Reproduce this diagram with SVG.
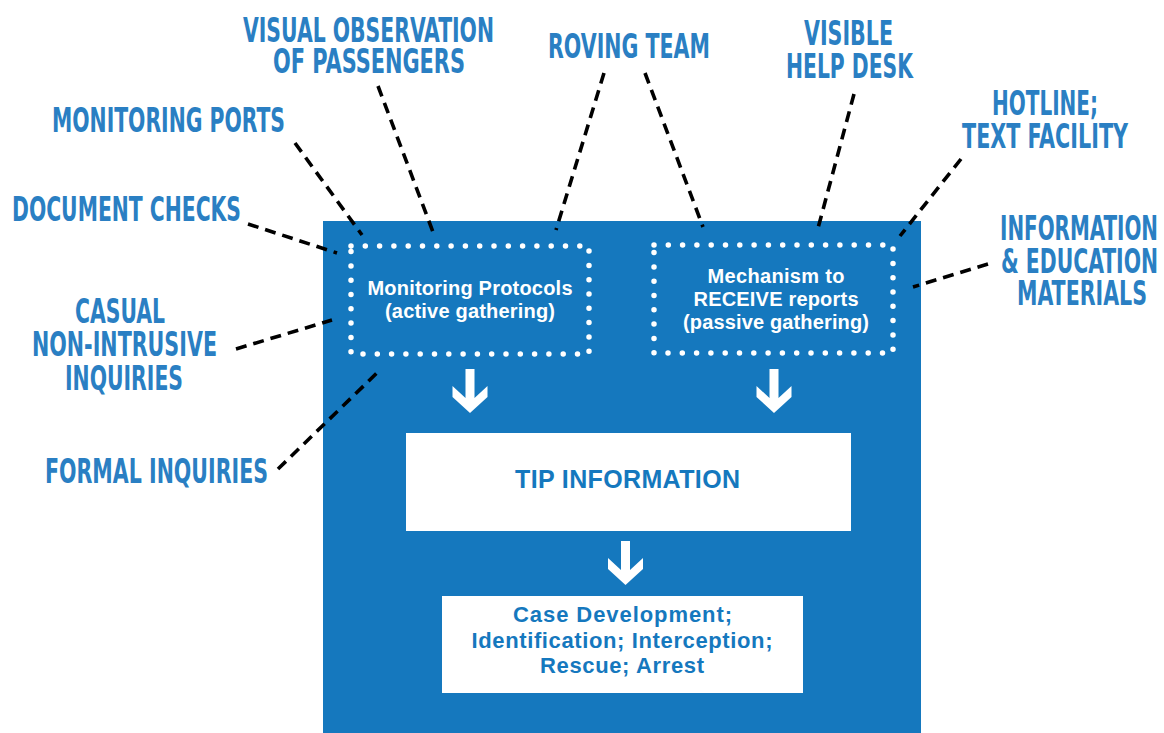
<svg xmlns="http://www.w3.org/2000/svg" width="1164" height="733" viewBox="0 0 1164 733">
<style>
.lbl{font-family:"Liberation Sans Narrow","DejaVu Sans Condensed","Liberation Sans",sans-serif;font-weight:bold;font-size:33px;fill:#2a7fc3}
.inner{font-family:"Liberation Sans",Arial,sans-serif;font-weight:bold;font-size:20px;fill:#ffffff;text-anchor:middle}
.boxt{font-family:"Liberation Sans",Arial,sans-serif;font-weight:bold;fill:#1578be;text-anchor:middle}
.dots{fill:none;stroke:#ffffff;stroke-width:5.5;stroke-linecap:round;stroke-dasharray:0 14.3}
.dash{stroke:#000000;stroke-width:3.6;stroke-dasharray:11 7;fill:none}
.wbox{fill:#ffffff}
</style>
<defs>
<path id="arr" d="M-4.5,0 L4.5,0 L4.5,29 L17.5,17 L17.5,28 L0,44 L-17.5,28 L-17.5,17 L-4.5,29 Z" fill="#ffffff"/>
</defs>
<rect width="1164" height="733" fill="#ffffff"/>
<g id="panel">
<rect x="323" y="221" width="598" height="512" fill="#1578be"/>
</g>
<g id="connectors">
<line class="dash" x1="248" y1="224" x2="337" y2="253"/>
<line class="dash" x1="295" y1="143" x2="362" y2="235"/>
<line class="dash" x1="378" y1="86" x2="433" y2="232"/>
<line class="dash" x1="604" y1="73" x2="556" y2="230"/>
<line class="dash" x1="645" y1="73" x2="703" y2="227"/>
<line class="dash" x1="854" y1="94" x2="817" y2="232"/>
<line class="dash" x1="961" y1="159" x2="900" y2="236"/>
<line class="dash" x1="988" y1="264" x2="913" y2="287"/>
<line class="dash" x1="236" y1="349" x2="332" y2="320"/>
<line class="dash" x1="278" y1="469" x2="380" y2="370"/>
<use href="#arr" x="470" y="369"/>
<use href="#arr" x="774" y="369"/>
<use href="#arr" x="625.5" y="541"/>
</g>
<g id="monitoring-protocols">
<rect class="dots" x="351" y="246" width="238" height="108"/>
<text class="inner" x="470" y="295" textLength="205">Monitoring Protocols</text>
<text class="inner" x="470" y="318" textLength="170">(active gathering)</text>
</g>
<g id="receive-reports">
<rect class="dots" x="654" y="245" width="239" height="108"/>
<text class="inner" x="776" y="283" textLength="137">Mechanism to</text>
<text class="inner" x="776" y="306" textLength="165">RECEIVE reports</text>
<text class="inner" x="776" y="329" textLength="186">(passive gathering)</text>
</g>
<g id="tip-information">
<rect class="wbox" x="406" y="433" width="445" height="98"/>
<text class="boxt" x="627.5" y="488" font-size="25" textLength="225">TIP INFORMATION</text>
</g>
<g id="case-development">
<rect class="wbox" x="442" y="596" width="361" height="97"/>
<text class="boxt" x="622.5" y="622" font-size="22" textLength="219">Case Development;</text>
<text class="boxt" x="622" y="648" font-size="22" textLength="301">Identification; Interception;</text>
<text class="boxt" x="622" y="673" font-size="22" textLength="164">Rescue; Arrest</text>
</g>
<g id="label-visual-observation">
<text class="lbl" x="243" y="42" textLength="251" lengthAdjust="spacingAndGlyphs">VISUAL OBSERVATION</text>
<text class="lbl" x="273" y="73" textLength="192" lengthAdjust="spacingAndGlyphs">OF PASSENGERS</text>
</g>
<g id="label-monitoring-ports">
<text class="lbl" x="52" y="132" textLength="233" lengthAdjust="spacingAndGlyphs">MONITORING PORTS</text>
</g>
<g id="label-document-checks">
<text class="lbl" x="12" y="221" textLength="229" lengthAdjust="spacingAndGlyphs">DOCUMENT CHECKS</text>
</g>
<g id="label-roving-team">
<text class="lbl" x="548" y="58" textLength="162" lengthAdjust="spacingAndGlyphs">ROVING TEAM</text>
</g>
<g id="label-help-desk">
<text class="lbl" x="804" y="45" textLength="89" lengthAdjust="spacingAndGlyphs">VISIBLE</text>
<text class="lbl" x="786" y="78" textLength="127" lengthAdjust="spacingAndGlyphs">HELP DESK</text>
</g>
<g id="label-hotline">
<text class="lbl" x="992" y="115" textLength="106" lengthAdjust="spacingAndGlyphs">HOTLINE;</text>
<text class="lbl" x="962" y="148" textLength="166" lengthAdjust="spacingAndGlyphs">TEXT FACILITY</text>
</g>
<g id="label-information">
<text class="lbl" x="1000" y="240" textLength="158" lengthAdjust="spacingAndGlyphs">INFORMATION</text>
<text class="lbl" x="1001" y="273" textLength="157" lengthAdjust="spacingAndGlyphs">&amp; EDUCATION</text>
<text class="lbl" x="1017" y="305" textLength="130" lengthAdjust="spacingAndGlyphs">MATERIALS</text>
</g>
<g id="label-casual">
<text class="lbl" x="75" y="323" textLength="90" lengthAdjust="spacingAndGlyphs">CASUAL</text>
<text class="lbl" x="32" y="356" textLength="185" lengthAdjust="spacingAndGlyphs">NON-INTRUSIVE</text>
<text class="lbl" x="65" y="390" textLength="118" lengthAdjust="spacingAndGlyphs">INQUIRIES</text>
</g>
<g id="label-formal">
<text class="lbl" x="45" y="483" textLength="223" lengthAdjust="spacingAndGlyphs">FORMAL INQUIRIES</text>
</g>
</svg>
